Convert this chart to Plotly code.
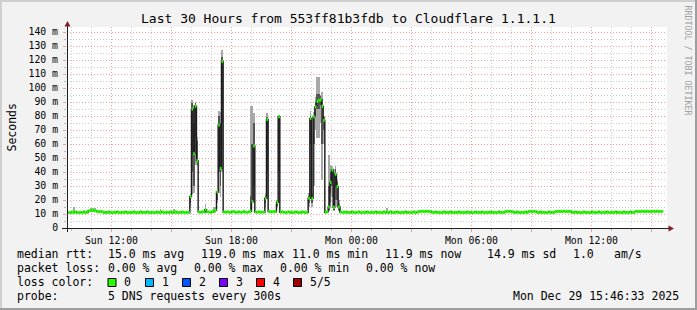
import plotly.graph_objects as go
import pandas as pd

# ---------------- data ----------------
# median RTT (ms) per 5-minute step, starting 2025-12-28 09:45 (one row = one hour)
median_ms = [
    11.2, 11.0, 11.0, 11.4, 11.0, 11.6, 11.0, 11.0, 11.2, 11.0, 11.6, 11.0,
    11.2, 12.4, 12.4, 12.6, 12.4, 12.4, 11.8, 11.6, 11.8, 11.6, 11.0, 11.2,
    11.0, 11.6, 11.0, 11.0, 11.2, 11.0, 11.6, 11.0, 11.0, 11.2, 11.0, 11.6,
    11.0, 11.0, 11.2, 11.0, 11.6, 11.0, 11.0, 11.0, 11.6, 11.0, 11.2, 11.0,
    11.6, 11.0, 11.0, 11.2, 11.0, 11.0, 11.6, 11.0, 11.2, 11.6, 11.0, 11.0,
    11.2, 11.0, 11.6, 11.0, 11.0, 11.6, 11.0, 11.2, 11.0, 11.6, 11.0, 11.0,
    11.2, 11.0, 22.4, 85.0, 53.0, 87.0, 48.0, 11.4, 11.2, 11.6, 11.4, 13.0,
    11.6, 11.4, 11.2, 11.6, 12.4, 12.6, 25.7, 73.6, 42.6, 119.0, 11.4, 11.2,
    11.6, 11.2, 11.2, 11.6, 11.8, 11.2, 11.2, 11.6, 11.2, 11.2, 11.8, 11.2,
    11.2, 11.6, 12.0, 18.8, 58.6, 11.4, 11.2, 11.6, 11.2, 11.4, 11.2, 21.2,
    77.6, 11.8, 11.6, 11.6, 11.8, 11.6, 18.3, 79.5, 11.2, 11.6, 11.2, 11.0,
    11.2, 11.6, 11.0, 11.2, 11.0, 11.6, 11.2, 11.0, 11.0, 11.6, 11.2, 11.0,
    11.2, 21.2, 78.3, 21.2, 79.5, 86.5, 90.5, 91.2, 91.4, 87.0, 77.0, 11.2,
    11.6, 15.0, 32.6, 41.4, 14.8, 38.4, 29.5, 15.0, 11.4, 11.2, 11.0, 11.6,
    11.0, 11.2, 11.0, 11.6, 11.0, 11.0, 11.2, 11.6, 11.0, 11.0, 11.2, 11.0,
    11.6, 11.0, 11.0, 11.2, 11.0, 11.6, 11.0, 11.2, 11.0, 11.0, 11.6, 11.0,
    11.2, 11.0, 11.6, 11.0, 11.0, 11.2, 11.6, 11.0, 11.0, 11.2, 11.0, 11.6,
    11.0, 11.2, 11.0, 11.0, 11.6, 11.0, 11.2, 11.8, 11.8, 12.0, 11.8, 11.8,
    12.0, 11.8, 11.8, 11.2, 11.0, 11.6, 11.0, 11.2, 11.0, 11.0, 11.6, 11.0,
    11.2, 11.0, 11.6, 11.0, 11.0, 11.2, 11.0, 11.6, 11.0, 11.2, 11.0, 11.0,
    11.6, 11.0, 11.2, 11.0, 11.0, 11.6, 11.0, 11.2, 11.0, 11.6, 11.0, 11.0,
    11.2, 11.0, 11.6, 11.0, 11.2, 11.0, 11.0, 11.6, 11.0, 11.2, 11.0, 11.8,
    11.8, 12.0, 11.8, 11.8, 11.2, 11.0, 11.6, 11.0, 11.0, 11.2, 11.0, 11.6,
    11.0, 11.8, 12.0, 11.8, 11.8, 11.8, 11.2, 11.0, 11.6, 11.0, 11.2, 11.0,
    11.0, 11.6, 11.0, 11.2, 11.0, 11.8, 11.8, 12.0, 11.8, 11.8, 12.0, 11.8,
    11.8, 12.0, 11.8, 11.2, 11.0, 11.6, 11.0, 11.2, 11.0, 11.0, 11.6, 11.0,
    11.2, 11.0, 11.0, 11.6, 11.0, 11.2, 11.0, 11.6, 11.0, 11.0, 11.2, 11.0,
    11.6, 11.0, 11.0, 11.2, 11.0, 11.6, 11.0, 11.2, 11.0, 11.0, 11.6, 11.0,
    11.2, 11.0, 11.6, 11.0, 11.0, 11.8, 12.0, 11.8, 11.8, 12.0, 11.8, 11.8,
    12.0, 11.8, 11.8, 12.0, 11.8, 11.8, 12.0, 11.8, 11.8, 11.9,
]

# smoke (spread of the 5 pings) for steps where it is visible
smoke_step = [4, 14, 15, 16, 17, 56, 64, 74, 75, 76, 77, 78, 83, 88, 89, 90, 91, 92, 93,
              110, 111, 112, 119, 120, 126, 127, 145, 146, 147, 148, 149, 150, 151, 152,
              153, 154, 157, 158, 159, 160, 161, 162, 163, 164, 192, 356]
smoke_lo = [10.8, 11.2, 11.2, 11.2, 11.2, 10.8, 10.8, 15.0, 24.0, 25.0, 45.0, 45.0, 11.0, 11.0,
            11.0, 18.0, 25.0, 22.0, 40.0, 11.0, 18.0, 20.0, 15.0, 21.0, 15.0, 18.0, 15.0, 21.0,
            15.0, 30.0, 70.0, 64.0, 64.0, 75.0, 34.0, 60.0, 12.0, 18.0, 22.0, 12.0, 20.0, 15.0,
            12.0, 11.0, 10.8, 10.8]
smoke_hi = [14.8, 14.0, 14.0, 14.4, 14.0, 13.5, 13.5, 24.0, 91.4, 88.0, 90.2, 65.0, 17.0, 15.0,
            15.0, 26.0, 83.6, 83.0, 127.0, 87.0, 87.0, 82.4, 25.0, 82.4, 20.0, 81.0, 25.0, 83.3,
            25.0, 83.0, 93.8, 107.6, 107.6, 95.0, 97.4, 80.0, 52.0, 45.0, 44.0, 42.0, 44.0, 34.0,
            20.0, 16.0, 14.5, 13.0]
core_lo = [11.0, 11.8, 11.8, 11.8, 11.8, 11.0, 11.0, 17.6, 40.0, 30.0, 65.0, 48.0, 11.5, 11.5,
           11.5, 20.0, 40.0, 30.0, 75.0, 12.0, 18.0, 30.0, 18.0, 40.0, 16.0, 40.0, 18.0, 60.0,
           18.0, 60.0, 80.0, 85.0, 85.0, 88.0, 60.0, 70.0, 13.0, 25.0, 30.0, 13.0, 30.0, 20.0,
           13.0, 11.0, 11.0, 11.0]
core_hi = [12.0, 13.0, 13.0, 13.0, 13.0, 11.8, 11.8, 22.4, 89.0, 75.0, 89.0, 62.0, 13.5, 13.0,
           13.0, 25.7, 80.0, 75.0, 122.0, 23.0, 60.0, 75.0, 23.0, 79.0, 19.0, 80.0, 23.0, 80.0,
           23.0, 80.0, 90.0, 96.0, 96.0, 94.0, 92.0, 79.0, 30.0, 40.0, 42.0, 30.0, 42.0, 33.0,
           17.0, 13.0, 12.5, 12.0]

x_tick_times = ["2025-12-28 12:00", "2025-12-28 15:00", "2025-12-28 18:00", "2025-12-28 21:00",
                "2025-12-29 00:00", "2025-12-29 03:00", "2025-12-29 06:00", "2025-12-29 09:00",
                "2025-12-29 12:00", "2025-12-29 15:00"]
x_tick_labels = ["Sun 12:00", "", "Sun 18:00", "", "Mon 00:00", "", "Mon 06:00", "", "Mon 12:00", ""]
y_tick_values = [0, 10, 20, 30, 40, 50, 60, 70, 80, 90, 100, 110, 120, 130, 140]
y_tick_labels = ["0", "10 m", "20 m", "30 m", "40 m", "50 m", "60 m", "70 m", "80 m", "90 m",
                 "100 m", "110 m", "120 m", "130 m", "140 m"]

loss_labels = ["0", "1", "2", "3", "4", "5/5"]
loss_colors = ["#26ff00", "#00b8ff", "#0059ff", "#7e00ff", "#ff0000", "#a10000"]

range_start = "2025-12-28 09:46:33"
range_end = "2025-12-29 15:46:33"
first_step = pd.Timestamp("2025-12-28 09:45:00")
step = pd.Timedelta(minutes=5)

# ---------------- geometry helpers ----------------
W, H = 697, 310
PL, PR, PT, PB = 67, 667, 27, 228


def px_x(px):
    return (px - PL) / (PR - PL)


def px_y(py):
    return (PB - py) / (PB - PT)


times = [first_step + k * step for k in range(len(median_ms))]

fig = go.Figure()

# smoke
fig.add_trace(go.Bar(
    x=[times[k] for k in smoke_step], base=smoke_lo,
    y=[h - l for h, l in zip(smoke_hi, smoke_lo)],
    width=step.total_seconds() * 1000, offset=0,
    marker=dict(color="#a8a8a8", line=dict(width=0)), hoverinfo="skip"))
fig.add_trace(go.Bar(
    x=[times[k] for k in smoke_step], base=core_lo,
    y=[h - l for h, l in zip(core_hi, core_lo)],
    width=step.total_seconds() * 1000, offset=0,
    marker=dict(color="#555555", line=dict(width=0)), hoverinfo="skip"))

# black median step line
fig.add_trace(go.Scatter(
    x=times + [times[-1] + step], y=median_ms + [median_ms[-1]],
    mode="lines", line=dict(color="#1a1a1a", width=1.4, shape="hv"), hoverinfo="skip"))

# loss-coloured median band (0 loss everywhere)
gx, gy = [], []
for t, m in zip(times, median_ms):
    gx += [t, t + step, None]
    gy += [m, m, None]
fig.add_trace(go.Scatter(x=gx, y=gy, mode="lines",
                         line=dict(color=loss_colors[0], width=3), hoverinfo="skip"))

mono = "DejaVu Sans Mono"
fig.update_layout(
    width=W, height=H,
    margin=dict(l=PL, r=W - PR, t=PT, b=H - PB, pad=0),
    paper_bgcolor="#f2f2f2", plot_bgcolor="#ffffff",
    showlegend=False, barmode="overlay", bargap=0,
    font=dict(family=mono, size=10, color="#000000"),
    hovermode=False,
)
fig.update_xaxes(
    type="date", range=[range_start, range_end],
    tickmode="array", tickvals=x_tick_times, ticktext=x_tick_labels,
    showgrid=True, gridcolor="#efa0a0", gridwidth=1, griddash="1px,2px",
    ticks="outside", ticklen=3, tickcolor="#efa0a0",
    tickfont=dict(family=mono, size=9.8),
    minor=dict(dtick=3600000, tick0="2025-12-28 10:00", showgrid=True,
               gridcolor="#cfcfcf", gridwidth=1, griddash="1px,2px",
               ticks="outside", ticklen=2, tickcolor="#bbbbbb"),
    showline=False, zeroline=False, fixedrange=True,
)
fig.update_yaxes(
    range=[0, 143.57],
    tickmode="array", tickvals=y_tick_values, ticktext=y_tick_labels,
    showgrid=True, gridcolor="#efa0a0", gridwidth=1, griddash="1px,2px",
    ticks="outside", ticklen=3, tickcolor="#efa0a0",
    tickfont=dict(family=mono, size=9.8), ticklabelstandoff=3,
    minor=dict(dtick=5, tick0=0, showgrid=True, gridcolor="#cfcfcf", gridwidth=1,
               griddash="1px,2px", ticks="outside", ticklen=2, tickcolor="#bbbbbb"),
    showline=False, zeroline=False, fixedrange=True,
)

shapes = []
# image frame (rrdtool shading)
shapes.append(dict(type="line", xref="paper", yref="paper", x0=px_x(0), x1=px_x(W),
                   y0=px_y(1), y1=px_y(1), line=dict(color="#cfcfcf", width=2)))
shapes.append(dict(type="line", xref="paper", yref="paper", x0=px_x(1), x1=px_x(1),
                   y0=px_y(0), y1=px_y(H), line=dict(color="#cfcfcf", width=2)))
shapes.append(dict(type="line", xref="paper", yref="paper", x0=px_x(0), x1=px_x(W),
                   y0=px_y(H - 1), y1=px_y(H - 1), line=dict(color="#9e9e9e", width=2)))
shapes.append(dict(type="line", xref="paper", yref="paper", x0=px_x(W - 1), x1=px_x(W - 1),
                   y0=px_y(0), y1=px_y(H), line=dict(color="#9e9e9e", width=2)))
# axes
shapes.append(dict(type="line", xref="paper", yref="paper", x0=px_x(62), x1=px_x(669),
                   y0=px_y(228.5), y1=px_y(228.5), line=dict(color="#1f1f1f", width=1)))
shapes.append(dict(type="line", xref="paper", yref="paper", x0=px_x(67.5), x1=px_x(67.5),
                   y0=px_y(232), y1=px_y(24), line=dict(color="#1f1f1f", width=1)))
# arrows
shapes.append(dict(type="path", xref="paper", yref="paper",
                   path="M {},{} L {},{} L {},{} Z".format(
                       px_x(67.5), px_y(21), px_x(64.5), px_y(26.5), px_x(70.5), px_y(26.5)),
                   fillcolor="#801f1f", line=dict(width=0)))
shapes.append(dict(type="path", xref="paper", yref="paper",
                   path="M {},{} L {},{} L {},{} Z".format(
                       px_x(674), px_y(228.5), px_x(668.5), px_y(225.5), px_x(668.5), px_y(231.5)),
                   fillcolor="#801f1f", line=dict(width=0)))
# loss colour swatches
swatch_x = [108, 145.5, 182.5, 219.5, 256.5, 293.5]
for sx, col in zip(swatch_x, loss_colors):
    shapes.append(dict(type="rect", xref="paper", yref="paper",
                       x0=px_x(sx), x1=px_x(sx + 8), y0=px_y(278.5), y1=px_y(286.5),
                       fillcolor=col, line=dict(color="#000000", width=1)))
fig.update_layout(shapes=shapes)

ann = []


def txt(x, y, s, size=11.5, anchor="left", color="#000000", angle=0):
    ann.append(dict(xref="paper", yref="paper", x=px_x(x), y=px_y(y), text=s,
                    showarrow=False, xanchor=anchor, yanchor="middle", textangle=angle,
                    font=dict(family=mono, size=size, color=color), borderpad=0))


txt(348.5, 19, "Last 30 Hours from 553ff81b3fdb to Cloudflare 1.1.1.1", size=13, anchor="center")
txt(11, 127.5, "Seconds", size=11.5, anchor="center", angle=-90)
txt(687.5, 60, "RRDTOOL / TOBI OETIKER", size=8.3, anchor="center", color="#a0a0a0", angle=90)

row1 = [(16, "median rtt:"), (107, "15.0 ms avg"), (200, "119.0 ms max"), (291, "11.0 ms min"),
        (383.5, "11.9 ms now"), (486, "14.9 ms sd"), (572, "1.0"), (612.5, "am/s")]
for x, s in row1:
    txt(x, 254.3, s)
row2 = [(16, "packet loss:"), (107, "0.00 % avg"), (193, "0.00 % max"), (279, "0.00 % min"),
        (364.5, "0.00 % now")]
for x, s in row2:
    txt(x, 268.3, s)
txt(16, 282.3, "loss color:")
for sx, lab in zip(swatch_x, loss_labels):
    txt(sx + 15, 282.3, lab)
txt(16, 296.3, "probe:")
txt(107, 296.3, "5 DNS requests every 300s")
txt(680, 296.3, "Mon Dec 29 15:46:33 2025", anchor="right")
fig.update_layout(annotations=ann)

fig.write_html("out.html", config={"displayModeBar": False, "staticPlot": True})
